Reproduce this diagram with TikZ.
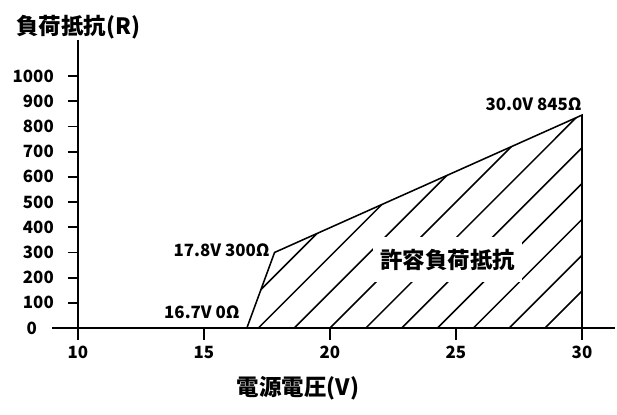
\documentclass[tikz,border=0pt]{standalone}
\usepackage{fontspec}
\setmainfont{Noto Sans CJK JP}
\begin{document}
\begin{tikzpicture}[x=0.63cm, y=0.0063cm, font=\fontsize{12}{14}\selectfont\bfseries]
	\tikzset{
		axisline/.style={line width=1.8pt},
		tickline/.style={line width=1.3pt},
		hatch/.style={line width=1.1pt},
		titletext/.style={font=\fontsize{16}{19}\selectfont\bfseries},
	}
	\useasboundingbox (6.905,-341.3) rectangle (31.389,1301.6);
	
	% corners of the allowed region
	\coordinate (p0) at (16.7,0);
	\coordinate (p1) at (17.8,300);
	\coordinate (p2) at (30,845);
	\coordinate (p3) at (30,0);
	
	% hatching
	\begin{scope}
		\clip (p0) -- (p1) -- (p2) -- (p3) -- cycle;
		\foreach \k in {-1,...,9}
			\draw[hatch] ({17.155+1.422*\k},0) -- ++(16,1600);
	\end{scope}
	\draw[hatch] (p0) -- (p1) -- (p2) -- (p3);
	
	% label inside the region
	\node[titletext, fill=white, inner xsep=5pt, inner ysep=8pt] (area) at (24.68,272) {許容負荷抵抗};
	
	% axes
	\coordinate (xs) at (8.97,0);
	\coordinate (xe) at (31.31,0);
	\coordinate (ys) at (10,-48);
	\coordinate (ye) at (10,1143);
	\draw[axisline] (xs) -- (xe);
	\draw[axisline] (ys) -- (ye);
	
	% y ticks
	\foreach \r in {100,200,...,1000} {
		\draw[tickline] (9.6,\r) -- (10,\r);
		\node[anchor=east, inner sep=0pt] (y\r) at (9.05,\r) {\r};
	}
	\node (y0) at (8.17,0) {0};
	
	% x ticks
	\foreach \v in {10,15,20,25,30} {
		\draw[tickline] (\v,0) -- (\v,-48);
		\node (x\v) at (\v,-95) {\v};
	}
	
	% corner values
	\node[anchor=east, inner sep=0pt] (pa) at (16.43,63) {16.7V 0Ω};
	\node[anchor=east, inner sep=0pt] (pb) at (17.62,310) {17.8V 300Ω};
	\node[anchor=east, inner sep=0pt] (pc) at (30.0,889) {30.0V 845Ω};
	
	% axis titles
	\node[titletext, anchor=west] (ytitle) at (7.35,1194) {負荷抵抗(R)};
	\node[titletext] (xtitle) at (18.73,-238) {電源電圧(V)};
	
\end{tikzpicture}
\end{document}
